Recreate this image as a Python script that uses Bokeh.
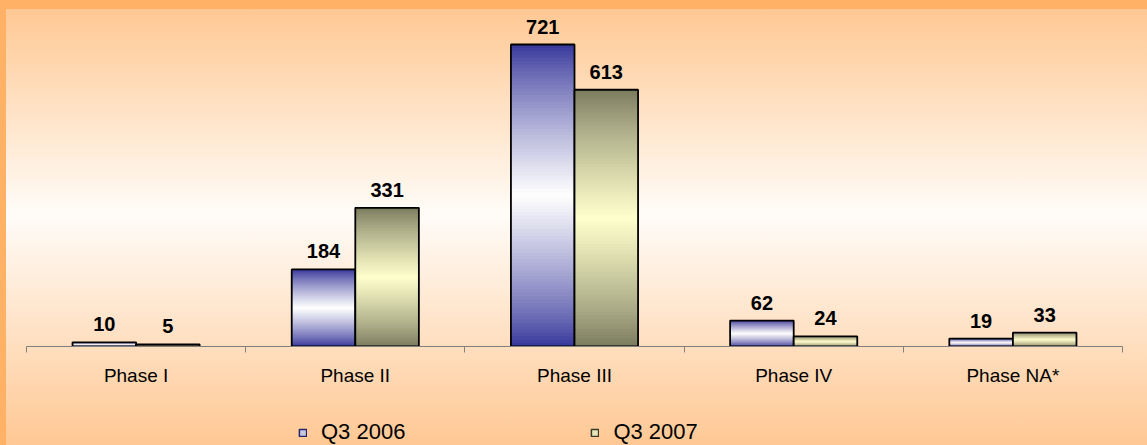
import numpy as np
from bokeh.plotting import figure
from bokeh.layouts import column
from bokeh.models import Range1d, FixedTicker, Legend, LegendItem
from bokeh.embed import file_html
from bokeh.resources import INLINE
from bokeh.core.properties import value

# Number of trials by phase
categories = ["Phase I", "Phase II", "Phase III", "Phase IV", "Phase NA*"]
q3_2006 = [10, 184, 721, 62, 19]
q3_2007 = [5, 331, 613, 24, 33]
series_names = ["Q3 2006", "Q3 2007"]

# Shading: dark at both ends of a bar, light in the middle
BLUE_DARK, BLUE_LIGHT = (51, 51, 153), (255, 255, 255)
OLIVE_DARK, OLIVE_LIGHT = (119, 119, 92), (255, 255, 204)

BAR_W = 0.29
N_SLICES = 90
FONT = "Liberation Sans"
W, H_MAIN, H_LEG = 1147, 410, 35


def mix(c1, c2, w):
    r, g, b = (int(round(a + (b_ - a) * w)) for a, b_ in zip(c1, c2))
    return f"#{r:02x}{g:02x}{b:02x}"


def bar_geometry(values, side):
    centers = np.arange(len(values)) + 0.5
    lefts = centers + (-BAR_W if side < 0 else 0.0)
    return lefts, lefts + BAR_W


def shaded_slices(values, side, dark, light):
    # each slice reaches up into the next one so no seams show between them
    lefts, rights = bar_geometry(values, side)
    data = dict(left=[], right=[], bottom=[], top=[], color=[])
    for l, r, v in zip(lefts, rights, values):
        edges = np.linspace(0, v, N_SLICES + 1)
        for k in range(N_SLICES):
            t = (k + 0.5) / N_SLICES
            w = (1 - abs(2 * t - 1)) ** 0.8
            data["left"].append(l)
            data["right"].append(r)
            data["bottom"].append(edges[k])
            data["top"].append(edges[min(k + 2, N_SLICES)])
            data["color"].append(mix(dark, light, w))
    return data


p = figure(
    width=W, height=H_MAIN,
    x_range=Range1d(0, len(categories)),
    y_range=Range1d(0, 804.6),
    output_backend="svg", toolbar_location=None,
    min_border_left=26, min_border_right=25,
    min_border_top=9, min_border_bottom=H_MAIN - 346,
)
p.background_fill_alpha = 0
p.border_fill_alpha = 0
p.outline_line_color = None
p.grid.visible = False
p.yaxis.visible = False

series = [
    (q3_2006, -1, BLUE_DARK, BLUE_LIGHT),
    (q3_2007, +1, OLIVE_DARK, OLIVE_LIGHT),
]
for vals, side, dark, light in series:
    p.quad(source=shaded_slices(vals, side, dark, light),
           left="left", right="right", bottom="bottom", top="top",
           fill_color="color", line_color=None)
    lefts, rights = bar_geometry(vals, side)
    p.quad(left=lefts, right=rights, bottom=0, top=vals,
           fill_color=None, line_color="black", line_width=1.8)
    p.text(x=(lefts + rights) / 2, y=vals, text=[str(v) for v in vals],
           text_align="center", text_baseline="alphabetic", y_offset=-18,
           text_font=value(FONT), text_font_style="bold",
           text_font_size="20px", text_color="black")

# Category axis: labels centred on groups, ticks on group boundaries
centers = [i + 0.5 for i in range(len(categories))]
ax = p.xaxis[0]
ax.ticker = FixedTicker(ticks=centers, minor_ticks=list(range(len(categories) + 1)))
ax.major_label_overrides = {c: name for c, name in zip(centers, categories)}
ax.major_tick_line_color = None
ax.major_tick_out = 0
ax.major_tick_in = 0
ax.minor_tick_line_color = "#808080"
ax.minor_tick_out = 6
ax.minor_tick_in = 0
ax.axis_line_color = "#808080"
ax.major_label_text_font = FONT
ax.major_label_text_font_size = "19px"
ax.major_label_text_color = "black"
ax.major_label_standoff = 12

# Legend strip underneath the chart
leg = figure(
    width=W, height=H_LEG,
    x_range=Range1d(0, W), y_range=Range1d(0, H_LEG),
    output_backend="svg", toolbar_location=None,
    min_border=0, x_axis_location=None, y_axis_location=None,
)
leg.background_fill_alpha = 0
leg.border_fill_alpha = 0
leg.outline_line_color = None
leg.grid.visible = False

# swatch renderers: one quad each, parked outside the visible range
r_a = leg.quad(left=[-20], right=[-10], bottom=[-20], top=[-10],
               fill_color="#C8C8E4", line_color="#24246B", line_width=1.5)
r_b = leg.quad(left=[-20], right=[-10], bottom=[-20], top=[-10],
               fill_color="#E6E6B8", line_color="#3A3A2A", line_width=1.5)
legend = Legend(
    items=[LegendItem(label=series_names[0], renderers=[r_a]),
           LegendItem(label=series_names[1], renderers=[r_b])],
    orientation="horizontal", location=(272, 0),
    padding=0, margin=0, spacing=185,
    glyph_width=9, glyph_height=9, label_standoff=14,
    label_text_font=FONT, label_text_font_size="22px",
    label_text_color="black",
    background_fill_alpha=0, border_line_color=None,
)
leg.add_layout(legend)

page = column(p, leg, spacing=0)
page.styles = {
    "background": "linear-gradient(to bottom, #FFC68F 0%, #FFFCF8 48%, #FFC894 100%)",
    "box-shadow": "inset 6px 9px 0 0 #FFB266",
}

open("out.html", "w").write(file_html(page, INLINE))
